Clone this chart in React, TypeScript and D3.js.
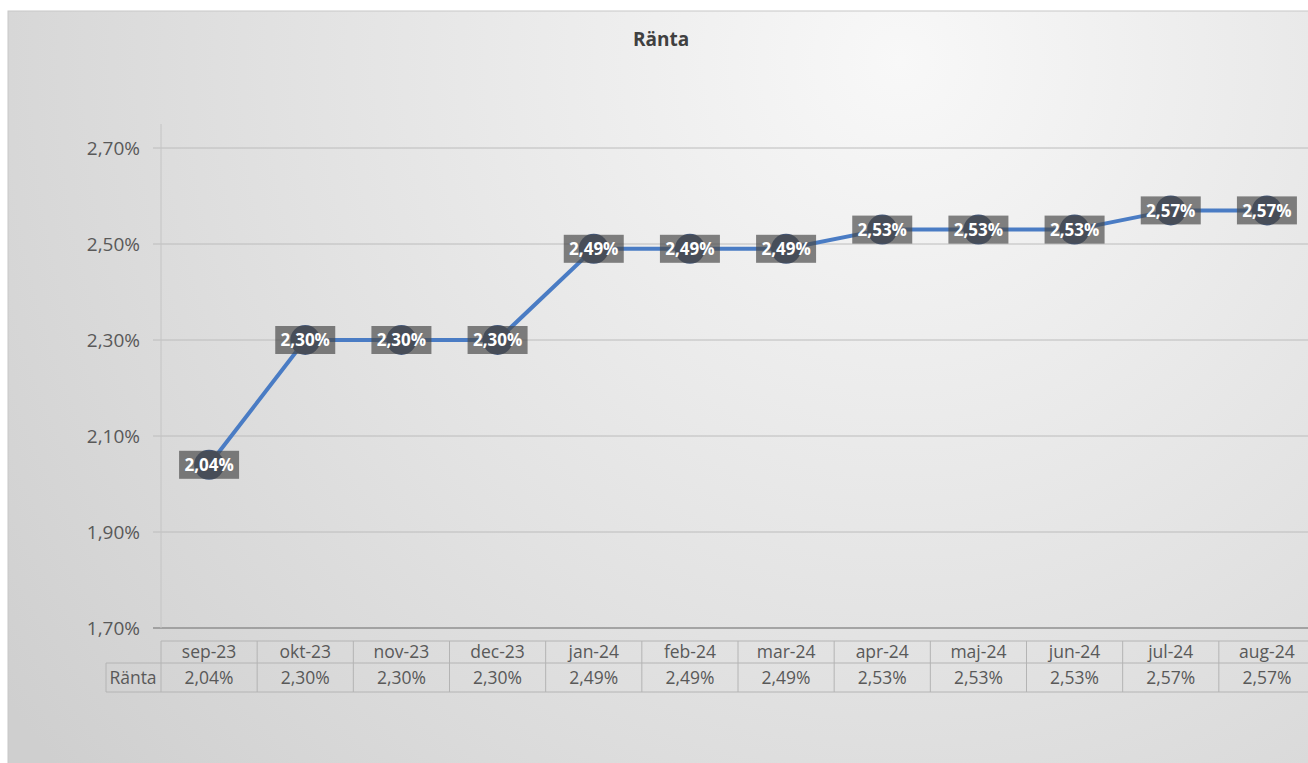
import { useEffect, useRef } from "react";
import * as d3 from "d3";

const months = ["sep-23", "okt-23", "nov-23", "dec-23", "jan-24", "feb-24", "mar-24", "apr-24", "maj-24", "jun-24", "jul-24", "aug-24"];
const ranta = [2.04, 2.30, 2.30, 2.30, 2.49, 2.49, 2.49, 2.53, 2.53, 2.53, 2.57, 2.57];
const yTicks = [1.7, 1.9, 2.1, 2.3, 2.5, 2.7];
const seriesName = "Ränta";
const title = "Ränta";

const W = 1308;
const H = 763;
const font = "'Open Sans', 'Noto Sans', sans-serif";
const fmt = (v: number) => v.toFixed(2).replace(".", ",") + "%";

const App = () => {
  const svgRef = useRef<SVGSVGElement | null>(null);

  useEffect(() => {
    const svg = d3.select(svgRef.current);
    svg.selectAll("*").remove();

    const left = 161, right = 1315, top = 124, bottom = 628;
    const x = d3.scaleBand<string>().domain(months).range([left, right]);
    const y = d3.scaleLinear().domain([1.7, 2.75]).range([bottom, top]);

    // background gradient
    const defs = svg.append("defs");
    const grad = defs.append("radialGradient")
      .attr("id", "bg")
      .attr("gradientUnits", "userSpaceOnUse")
      .attr("cx", 900).attr("cy", 60).attr("r", 1100);
    grad.append("stop").attr("offset", "0").attr("stop-color", "#f8f8f8");
    grad.append("stop").attr("offset", "0.55").attr("stop-color", "#e2e2e2");
    grad.append("stop").attr("offset", "1").attr("stop-color", "#cfcfcf");

    svg.append("rect")
      .attr("x", 8).attr("y", 11)
      .attr("width", W).attr("height", H)
      .attr("fill", "url(#bg)")
      .attr("stroke", "#c8c8c8");

    svg.append("text")
      .attr("x", 661).attr("y", 46)
      .attr("text-anchor", "middle")
      .style("font", `bold 19px ${font}`)
      .attr("fill", "#404040")
      .text(title);

    // gridlines + y labels
    const g = svg.append("g");
    g.selectAll("line.grid")
      .data(yTicks)
      .join("line")
      .attr("x1", left - 8).attr("x2", W)
      .attr("y1", d => y(d)).attr("y2", d => y(d))
      .attr("stroke", d => (d === 1.7 ? "#8f8f8f" : "#bcbcbc"))
      .attr("stroke-width", d => (d === 1.7 ? 1.5 : 1));

    g.append("line")
      .attr("x1", left).attr("x2", left)
      .attr("y1", top).attr("y2", bottom)
      .attr("stroke", "#c4c4c4");

    g.selectAll("text.ytick")
      .data(yTicks)
      .join("text")
      .attr("x", 140).attr("y", d => y(d))
      .attr("dy", "0.36em")
      .attr("text-anchor", "end")
      .style("font", `19px ${font}`)
      .attr("fill", "#595959")
      .text(d => fmt(d));

    // data table
    const tTop = 641, tMid = 663, tBot = 692;
    const tb = svg.append("g").attr("stroke", "#b4b4b4").attr("fill", "none");
    tb.append("line").attr("x1", left).attr("x2", W).attr("y1", tTop).attr("y2", tTop);
    tb.append("line").attr("x1", 106).attr("x2", W).attr("y1", tMid).attr("y2", tMid);
    tb.append("line").attr("x1", 106).attr("x2", W).attr("y1", tBot).attr("y2", tBot);
    tb.append("line").attr("x1", 106).attr("x2", 106).attr("y1", tMid).attr("y2", tBot);
    tb.selectAll("line.col")
      .data(months)
      .join("line")
      .attr("x1", d => x(d)!).attr("x2", d => x(d)!)
      .attr("y1", tTop).attr("y2", tBot);

    svg.selectAll("text.month")
      .data(months)
      .join("text")
      .attr("x", d => x(d)! + x.bandwidth() / 2)
      .attr("y", 658)
      .attr("text-anchor", "middle")
      .style("font", `17.5px ${font}`)
      .attr("fill", "#595959")
      .text(d => d);

    svg.selectAll("text.val")
      .data(ranta)
      .join("text")
      .attr("x", (_, i) => x(months[i])! + x.bandwidth() / 2)
      .attr("y", 684)
      .attr("text-anchor", "middle")
      .style("font", `17.5px ${font}`)
      .attr("fill", "#595959")
      .text(d => fmt(d));

    svg.append("text")
      .attr("x", 133).attr("y", 684)
      .attr("text-anchor", "middle")
      .style("font", `17.5px ${font}`)
      .attr("fill", "#595959")
      .text(seriesName);

    // line
    const cx = (i: number) => x(months[i])! + x.bandwidth() / 2;
    const line = d3.line<number>().x((_, i) => cx(i)).y(d => y(d));
    svg.append("path")
      .datum(ranta)
      .attr("d", line)
      .attr("fill", "none")
      .attr("stroke", "#4a7cc4")
      .attr("stroke-width", 4)
      .attr("stroke-linejoin", "round");

    const pts = svg.append("g").selectAll("g")
      .data(ranta)
      .join("g")
      .attr("transform", (d, i) => `translate(${cx(i)},${y(d)})`);

    pts.append("circle")
      .attr("r", 15)
      .attr("fill", "#44587a");

    pts.append("rect")
      .attr("x", -30).attr("y", -14)
      .attr("width", 60).attr("height", 28)
      .attr("fill", "rgba(72,72,72,0.68)");

    pts.append("text")
      .attr("text-anchor", "middle")
      .attr("dy", "0.36em")
      .style("font", `bold 17px ${font}`)
      .attr("fill", "#ffffff")
      .text(d => fmt(d));
  }, []);

  return (
    <svg
      ref={svgRef}
      width={W}
      height={H}
      style={{ position: "absolute", left: 0, top: 0 }}
    />
  );
};

export default App;
